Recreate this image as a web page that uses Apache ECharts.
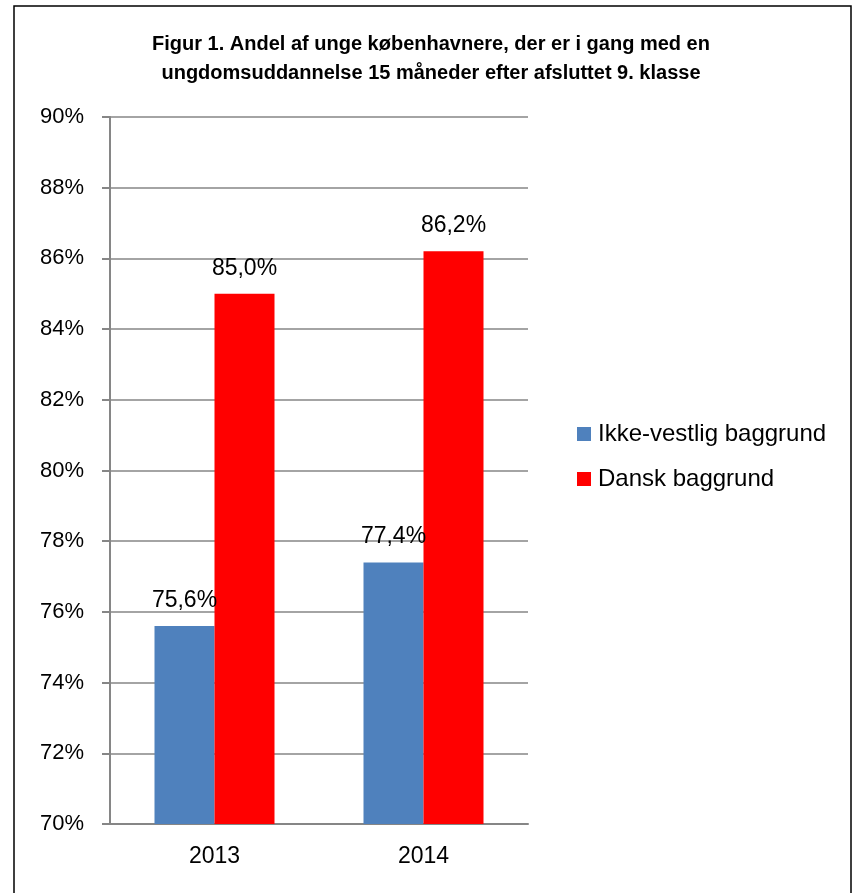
<!DOCTYPE html>
<html>
<head>
<meta charset="utf-8">
<script src="https://cdn.jsdelivr.net/npm/echarts@6/dist/echarts.min.js"></script>
<style>
  html, body { margin: 0; padding: 0; background: #fff; }
  #chart { width: 856px; height: 893px; }
</style>
</head>
<body>
<div id="chart"></div>
<script>
// Figur 1 - andel i gang med ungdomsuddannelse

let years = ["2013", "2014"];
let ikke_vestlig = [75.6, 77.4];
let dansk = [85.0, 86.2];
let series_names = ["Ikke-vestlig baggrund", "Dansk baggrund"];

let font = "'Liberation Sans', Arial, sans-serif";

// 85.0 -> "85,0%"
function pct_label(p) {
    return p.value.toFixed(1).replace(".", ",") + "%";
}

let chart = echarts.init(document.getElementById("chart"));

chart.setOption({
    backgroundColor: "#fff",
    animation: false,
    title: {
        text: "Figur 1. Andel af unge københavnere, der er i gang med en\nungdomsuddannelse 15 måneder efter afsluttet 9. klasse",
        left: 426,
        textAlign: "center",
        top: 25,
        textStyle: {
            fontFamily: font,
            fontSize: 20,
            fontWeight: "bold",
            color: "#000",
            lineHeight: 29
        }
    },
    graphic: [{
        type: "rect",
        shape: { x: 14, y: 6, width: 837, height: 900 },
        style: { fill: "none", stroke: "#000", lineWidth: 1.5 },
        silent: true
    }],
    legend: {
        orient: "vertical",
        left: 572,
        top: 417,
        itemWidth: 14,
        itemHeight: 14,
        itemGap: 21,
        icon: "rect",
        textStyle: { fontFamily: font, fontSize: 24, color: "#000", padding: [0, 0, 0, 2] },
        data: series_names
    },
    grid: { left: 110, right: 328, top: 117, bottom: 69 },
    xAxis: {
        type: "category",
        data: years,
        axisLine: { lineStyle: { color: "#868686", width: 2 } },
        axisTick: { length: 8, lineStyle: { color: "#868686", width: 2 } },
        axisLabel: { fontFamily: font, fontSize: 23, color: "#000", margin: 21 }
    },
    yAxis: {
        type: "value",
        min: 70,
        max: 90,
        interval: 2,
        axisLine: { show: true, lineStyle: { color: "#868686", width: 2 } },
        axisTick: { show: true, length: 8, lineStyle: { color: "#868686", width: 2 } },
        splitLine: { lineStyle: { color: "#868686", width: 1.5 } },
        axisLabel: {
            fontFamily: font, fontSize: 22, color: "#000", margin: 26,
            formatter: "{value}%"
        }
    },
    series: [
        {
            name: series_names[0],
            type: "bar",
            data: ikke_vestlig,
            barWidth: 60,
            barGap: "0%",
            itemStyle: { color: "#4F81BD" },
            label: {
                show: true, position: "top", distance: 14,
                fontFamily: font, fontSize: 23, color: "#000",
                formatter: pct_label
            }
        },
        {
            name: series_names[1],
            type: "bar",
            data: dansk,
            barWidth: 60,
            barGap: "0%",
            itemStyle: { color: "#FF0000" },
            label: {
                show: true, position: "top", distance: 14,
                fontFamily: font, fontSize: 23, color: "#000",
                formatter: pct_label
            }
        }
    ]
});
</script>
</body>
</html>
